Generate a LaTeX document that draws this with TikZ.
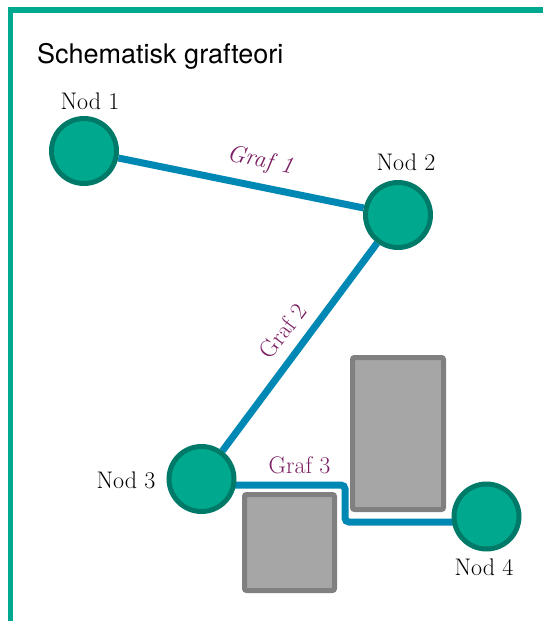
\documentclass[tikz,border=0pt]{standalone}
\usepackage{fontspec}
\newfontfamily\headfont{TeX Gyre Heros}
\usetikzlibrary{backgrounds}
\definecolor{framegreen}{HTML}{00A88F}
\definecolor{nodefill}{HTML}{00A88E}
\definecolor{nodeline}{HTML}{007A68}
\definecolor{edgeblue}{HTML}{0088B4}
\definecolor{labelpurple}{HTML}{7B1F63}
\definecolor{blockfill}{HTML}{A6A6A6}
\definecolor{blockline}{HTML}{808080}
\begin{document}
\begin{tikzpicture}[x=1pt,y=-1pt,
  gnode/.style={circle, draw=nodeline, fill=nodefill, line width=5pt,
    minimum size=65pt, inner sep=0pt},
  nodelabel/.style={font=\fontsize{24}{28}\selectfont, text=black, inner sep=0pt},
  edgelabel/.style={font=\fontsize{24}{28}\selectfont, text=labelpurple, inner sep=0pt},
  edge/.style={draw=edgeblue, line width=7pt},
  obstacle/.style={rectangle, draw=blockline, fill=blockfill, line width=5pt,
    rounded corners=2pt, inner sep=0pt},
  frameline/.style={draw=framegreen, line width=5.3pt}]
\useasboundingbox (0,0) rectangle (543,621);

% outer frame
\draw[frameline] (10.7,621) -- (10.7,10) -- (543,10);

% heading
\node[anchor=base west, inner sep=0pt, font=\headfont\fontsize{27}{32}\selectfont]
  (title) at (37,63) {Schematisk grafteori};

% obstacles
\node[obstacle, minimum width=91pt, minimum height=152pt] (blockA) at (398,433.5) {};
\node[obstacle, minimum width=90pt, minimum height=96pt] (blockB) at (289.5,542.5) {};

% graph nodes
\node[gnode] (n1) at (84,151) {};
\node[gnode] (n2) at (398,215) {};
\node[gnode] (n3) at (201.5,479) {};
\node[gnode] (n4) at (486.5,516.5) {};

% node labels
\node[nodelabel, anchor=base] (l1) at (90,109) {Nod 1};
\node[nodelabel, anchor=base] (l2) at (406,170) {Nod 2};
\node[nodelabel, anchor=base] (l3) at (126,488) {Nod 3};
\node[nodelabel, anchor=base] (l4) at (484,575) {Nod 4};

% edges, kept beneath the nodes
\coordinate (b1) at (345,485);
\coordinate (b2) at (345,522);
\begin{pgfonlayer}{background}
  \draw[edge] (n1) -- (n2);
  \draw[edge] (n2) -- (n3);
  \draw[edge, rounded corners=4pt] (n3.center |- b1) -- (b1) -- (b2) -- (n4.center |- b2);
\end{pgfonlayer}

% edge labels
\node[edgelabel, font=\fontsize{24}{28}\selectfont\itshape, rotate=-11.5] (g1) at (260,161) {Graf 1};
\node[edgelabel, rotate=53] (g2) at (283,331) {Graf 2};
\node[edgelabel, anchor=base] (g3) at (299.5,473) {Graf 3};
\end{tikzpicture}
\end{document}
